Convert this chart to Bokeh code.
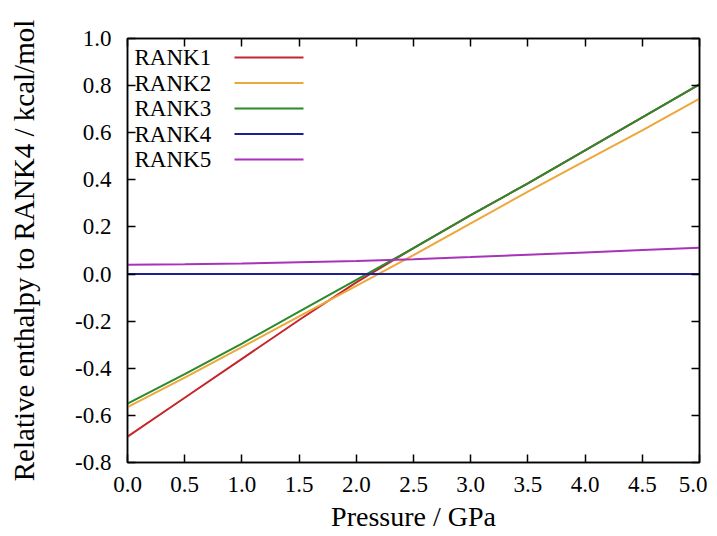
from bokeh.plotting import figure
from bokeh.models import LinearAxis, FixedTicker, PrintfTickFormatter, Range1d
from bokeh.core.properties import value
from bokeh.embed import file_html
from bokeh.resources import INLINE

# ---- data ----
pressure = [0.0, 0.5, 1.0, 1.5, 2.0, 2.5, 3.0, 3.5, 4.0, 4.5, 5.0]
rank1 = [-0.69, -0.525, -0.36, -0.195, -0.035, 0.11, 0.25, 0.385, 0.525, 0.665, 0.805]
rank2 = [-0.565, -0.44, -0.31, -0.18, -0.05, 0.08, 0.215, 0.35, 0.48, 0.61, 0.745]
rank3 = [-0.55, -0.425, -0.295, -0.16, -0.025, 0.11, 0.25, 0.385, 0.525, 0.665, 0.805]
rank4 = [0.0, 0.0, 0.0, 0.0, 0.0, 0.0, 0.0, 0.0, 0.0, 0.0, 0.0]
rank5 = [0.04, 0.042, 0.045, 0.05, 0.055, 0.063, 0.072, 0.082, 0.092, 0.102, 0.112]

series_names = ["RANK1", "RANK2", "RANK3", "RANK4", "RANK5"]
series_values = [rank1, rank2, rank3, rank4, rank5]
series_colors = ["#c4262c", "#eca83a", "#2b8a2b", "#1f1f8f", "#a833b8"]

x_ticks = [0.0, 0.5, 1.0, 1.5, 2.0, 2.5, 3.0, 3.5, 4.0, 4.5, 5.0]
y_ticks = [-0.8, -0.6, -0.4, -0.2, 0.0, 0.2, 0.4, 0.6, 0.8, 1.0]

x_label = "Pressure / GPa"
y_label = "Relative enthalpy to RANK4 / kcal/mol"

FONT = "Liberation Serif"

x0, x1 = 0.0, 5.0
y0, y1 = -0.8, 1.0

p = figure(width=707, height=534, output_backend="svg", toolbar_location=None,
           x_range=Range1d(x0, x1), y_range=Range1d(y0, y1),
           min_border_left=127, min_border_right=8, min_border_top=38,
           min_border_bottom=72, x_axis_location=None, y_axis_location=None)
p.grid.visible = False
p.background_fill_color = "white"
p.border_fill_color = "white"
p.outline_line_color = "black"
p.outline_line_width = 1.5


def style_axis(ax, labels=True):
    ax.axis_line_color = "black"
    ax.axis_line_width = 1.5
    ax.major_tick_line_color = "black"
    ax.major_tick_line_width = 1.5
    ax.major_tick_in = 8
    ax.major_tick_out = 0
    ax.minor_tick_line_color = None
    ax.major_label_text_font = FONT
    ax.major_label_text_font_size = "23px"
    ax.major_label_text_color = "black"
    ax.axis_label_text_font = FONT
    ax.axis_label_text_font_style = "normal"
    ax.axis_label_text_color = "black"
    if not labels:
        ax.major_label_text_font_size = "0px"
        ax.major_label_text_alpha = 0


xb = LinearAxis(ticker=FixedTicker(ticks=x_ticks), formatter=PrintfTickFormatter(format="%.1f"))
style_axis(xb)
xb.axis_label = x_label
xb.axis_label_text_font_size = "28px"
xb.major_label_standoff = 14
xb.axis_label_standoff = 6
p.add_layout(xb, "below")

yl = LinearAxis(ticker=FixedTicker(ticks=y_ticks), formatter=PrintfTickFormatter(format="%.1f"))
style_axis(yl)
yl.axis_label = y_label
yl.axis_label_text_font_size = "29px"
yl.major_label_standoff = 16
yl.axis_label_standoff = 32
p.add_layout(yl, "left")

xt = LinearAxis(ticker=FixedTicker(ticks=x_ticks))
style_axis(xt, labels=False)
p.add_layout(xt, "above")

yr = LinearAxis(ticker=FixedTicker(ticks=y_ticks))
style_axis(yr, labels=False)
p.add_layout(yr, "right")

for name, vals, col in zip(series_names, series_values, series_colors):
    p.line(pressure, vals, line_color=col, line_width=2)

# gnuplot-style key: label on the left, line sample on the right
frame_w_px, frame_h_px = 572.0, 424.0
dx = (x1 - x0) / frame_w_px
dy = (y1 - y0) / frame_h_px
text_x = x0 + 7 * dx
seg_x0 = x0 + 107 * dx
seg_x1 = x0 + 176 * dx
row0 = y1 - 19 * dy
row_step = 25.5 * dy
for i, (name, col) in enumerate(zip(series_names, series_colors)):
    ry = row0 - i * row_step
    p.text(x=[text_x], y=[ry], text=[name], text_font=value(FONT),
           text_font_size="23px", text_baseline="middle", text_align="left",
           text_color="black")
    p.line([seg_x0, seg_x1], [ry, ry], line_color=col, line_width=2)

open("out.html", "w").write(file_html(p, INLINE))
